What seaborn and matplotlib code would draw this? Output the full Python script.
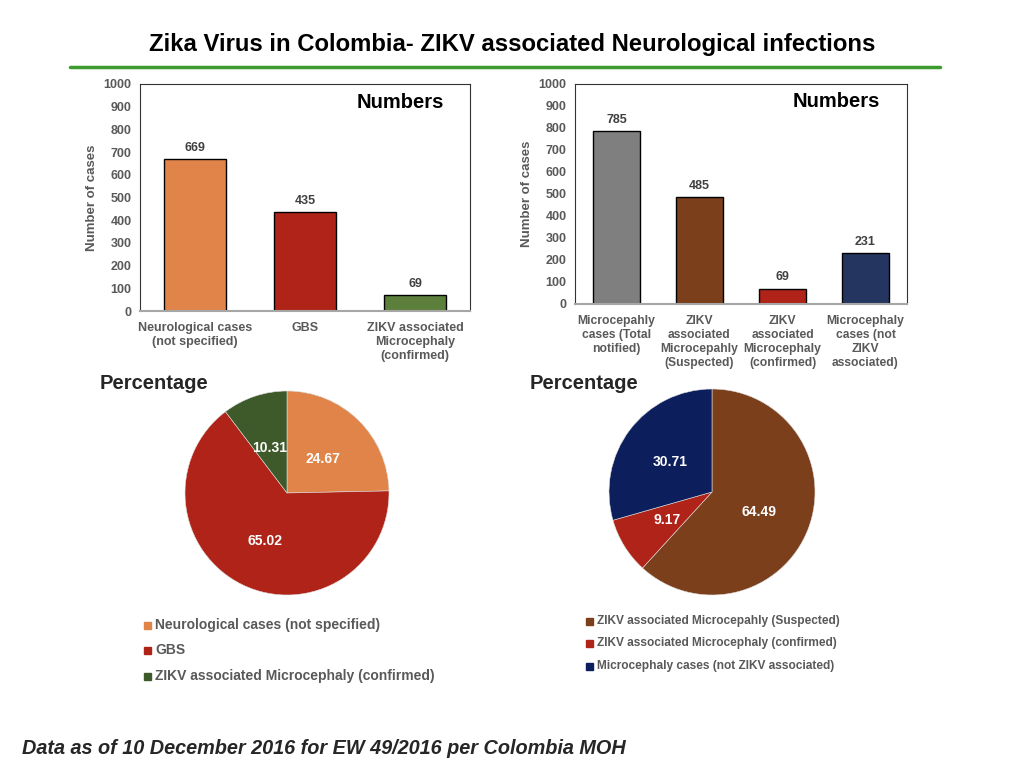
import numpy as np
import pandas as pd
import matplotlib
matplotlib.use('Agg')
import matplotlib.pyplot as plt
import seaborn as sns

# data
neuro_cats = ['Neurological cases\n(not specified)', 'GBS', 'ZIKV associated\nMicrocephaly\n(confirmed)']
neuro_counts = [669, 435, 69]
neuro_colors = ['#E0844A', '#B02318', '#5C7F3C']

micro_cats = ['Microcepahly\ncases (Total\nnotified)', 'ZIKV\nassociated\nMicrocepahly\n(Suspected)',
              'ZIKV\nassociated\nMicrocephaly\n(confirmed)', 'Microcephaly\ncases (not\nZIKV\nassociated)']
micro_counts = [785, 485, 69, 231]
micro_colors = ['#7F7F7F', '#7B3F1B', '#B02318', '#243660']

neuro_pie_labels = ['Neurological cases (not specified)', 'GBS', 'ZIKV associated Microcephaly (confirmed)']
neuro_pct = [24.67, 65.02, 10.31]
neuro_pie_colors = ['#E0844A', '#B02318', '#3F5A2A']

micro_pie_labels = ['ZIKV associated Microcepahly (Suspected)', 'ZIKV associated Microcephaly (confirmed)',
                    'Microcephaly cases (not ZIKV associated)']
micro_pct = [64.49, 9.17, 30.71]
micro_pie_colors = ['#7B3F1B', '#B02318', '#0C1F5C']

sns.set_theme(style='white')
plt.rcParams['font.family'] = ['Liberation Sans', 'DejaVu Sans']

W, H = 1024, 768
fig = plt.figure(figsize=(10.24, 7.68), dpi=100)


def px_axes(x0, y0, x1, y1):
    return fig.add_axes([x0 / W, 1 - y1 / H, (x1 - x0) / W, (y1 - y0) / H])


gray = '#595959'


def bar_panel(ax, cats, counts, colors, tick_size):
    df = pd.DataFrame({'cat': cats, 'n': counts})
    sns.barplot(data=df, x='cat', y='n', hue='cat', palette=colors, legend=False,
                width=0.57, edgecolor='black', linewidth=1.0, saturation=1, ax=ax)
    ax.set_ylim(0, 1000)
    ax.set_yticks(range(0, 1001, 100))
    ax.set_xlim(-0.5, len(cats) - 0.5)
    ax.set_xlabel('')
    ax.set_ylabel('Number of cases', fontsize=9.5, fontweight='bold', color=gray)
    ax.tick_params(axis='x', labelsize=tick_size, colors=gray, length=0, pad=8)
    ax.tick_params(axis='y', labelsize=9, colors=gray, length=0, pad=6)
    for lab in ax.get_xticklabels() + ax.get_yticklabels():
        lab.set_fontweight('bold')
    for i, v in enumerate(counts):
        ax.annotate(str(v), (i, v), xytext=(0, 4), textcoords='offset points',
                    ha='center', va='bottom', fontsize=9, fontweight='bold', color='#404040')
    for s in ['top', 'right', 'left']:
        ax.spines[s].set_color('#333333')
        ax.spines[s].set_linewidth(0.8)
    ax.spines['bottom'].set_color('#A6A6A6')
    ax.spines['bottom'].set_linewidth(1.5)
    ax.text(0.92, 0.92, 'Numbers', transform=ax.transAxes, ha='right', va='center',
            fontsize=14.5, fontweight='bold', color='black')


ax1 = px_axes(140, 84, 470, 311)
bar_panel(ax1, neuro_cats, neuro_counts, neuro_colors, 9)

ax2 = px_axes(575, 84, 907, 304)
bar_panel(ax2, micro_cats, micro_counts, micro_colors, 8.7)


def pie_panel(cx, cy, r, vals, colors):
    ax = px_axes(cx - r, cy - r, cx + r, cy + r)
    wedges, texts = ax.pie(vals, colors=colors, startangle=90, counterclock=False, radius=1,
                           labels=[f'{v:.2f}' for v in vals], labeldistance=0.5,
                           wedgeprops=dict(linewidth=0.4, edgecolor='#dddddd'),
                           textprops=dict(color='white', fontsize=10, fontweight='bold', ha='center', va='center'))
    ax.set_xlim(-1, 1)
    ax.set_ylim(-1, 1)
    return ax, texts


pax1, t1 = pie_panel(287, 493, 102, neuro_pct, neuro_pie_colors)
# label spots as in the reference
t1[0].set_position((0.35, 0.33))
t1[1].set_position((-0.22, -0.47))
t1[2].set_position((-0.17, 0.44))

pax2, t2 = pie_panel(712, 492, 103, micro_pct, micro_pie_colors)
t2[0].set_position((0.46, -0.19))
t2[1].set_position((-0.44, -0.27))
t2[2].set_position((-0.41, 0.29))

fig.text(100 / W, 1 - 383 / H, 'Percentage', fontsize=14.5, fontweight='bold', va='center', ha='left')
fig.text(530 / W, 1 - 383 / H, 'Percentage', fontsize=14.5, fontweight='bold', va='center', ha='left')

# legends
for labels, colors, x0, ys, fs in [
        (neuro_pie_labels, neuro_pie_colors, 145, [625, 650, 676], 10),
        (micro_pie_labels, micro_pie_colors, 587, [621, 643, 666], 8.6)]:
    for lab, col, y in zip(labels, colors, ys):
        fig.patches.append(plt.Rectangle(((x0 - 1) / W, 1 - (y + 4) / H), 7 / W, 7 / H,
                                         transform=fig.transFigure, color=col))
        fig.text((x0 + 10) / W, 1 - y / H, lab, fontsize=fs, fontweight='bold', color=gray,
                 va='center', ha='left')

fig.text(0.5, 1 - 45 / H, 'Zika Virus in Colombia- ZIKV associated Neurological infections',
         fontsize=17.2, fontweight='bold', ha='center', va='center', color='black')
fig.add_artist(plt.Line2D([70 / W, 940 / W], [1 - 67 / H, 1 - 67 / H], color='#3C9A2E', linewidth=2.5))

fig.text(22 / W, 1 - 748 / H, 'Data as of 10 December 2016 for EW 49/2016 per Colombia MOH',
         fontsize=14.3, fontweight='bold', fontstyle='italic', ha='left', va='center')

fig.savefig('out.png', dpi=100, facecolor='white')
